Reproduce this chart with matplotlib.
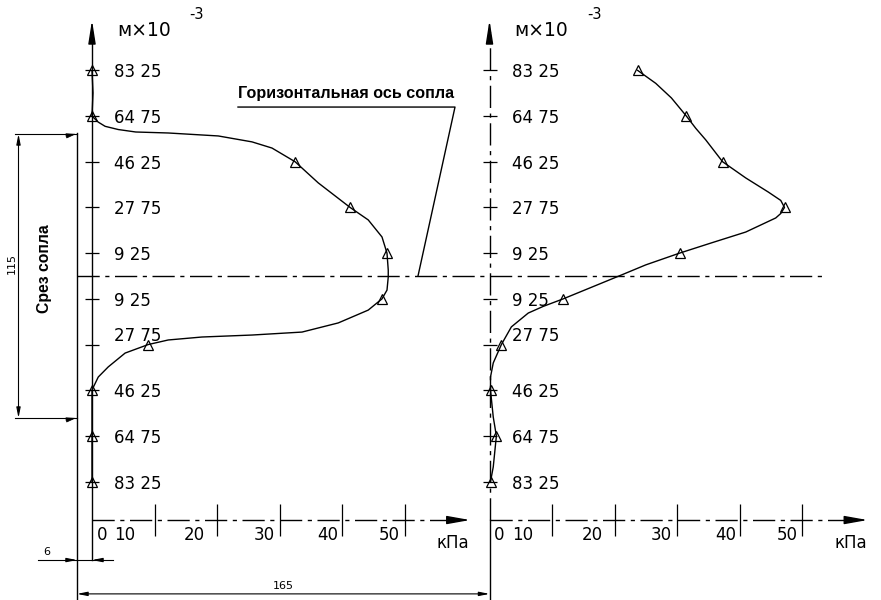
import matplotlib
matplotlib.use("Agg")
import matplotlib.pyplot as plt
from matplotlib.transforms import ScaledTranslation

plt.rcParams['font.family'] = ['DejaVu Sans']

# --- data ---------------------------------------------------------------
# stations across the jet, mm (x10^-3 m) from the nozzle axis, upper half > 0
y_pos = [83.25, 64.75, 46.25, 27.75, 9.25, -9.25, -27.75, -46.25, -64.75, -83.25]
y_labels = ['83 25', '64 75', '46 25', '27 75', '9 25',
            '9 25', '27 75', '46 25', '64 75', '83 25']

# measured pressure at each station, kPa
p_left = [0.0, 0.0, 32.5, 41.3, 47.2, 46.4, 9.0, 0.0, 0.0, 0.0]
p_right = [23.7, 31.5, 37.3, 47.2, 30.4, 11.8, 1.9, 0.2, 1.1, 0.2]

# faired profile as drawn on the sheet (kPa / mm)
curve_left_p = [0, 0.16, 0, 1.0, 2.1, 4.2, 7.0, 12.2, 20.2, 25.6, 28.8, 32.5, 36.2,
                41.3, 44.2, 46.4, 47.2, 47.4, 47.4, 47.2, 46.4, 44.2, 39.4, 33.6,
                25.6, 17.6, 12.2, 9.0, 5.3, 2.6, 1.0, 0.16, 0, 0, 0]
curve_left_y = [83.25, 74.1, 64.75, 62.3, 60.6, 59.3, 58.3, 57.9, 56.7, 54.3, 51.8,
                46.25, 37.7, 27.75, 22.7, 15.8, 9.25, 2.4, -0.4, -5.7, -9.25, -13.8,
                -19.0, -22.7, -23.9, -24.7, -25.9, -27.75, -31.2, -36.8, -40.9,
                -45.3, -46.25, -64.75, -83.25]

curve_right_p = [23.7, 26.6, 29.1, 31.5, 33.0, 34.6, 37.3, 41.0, 44.6, 46.6, 47.2,
                 46.6, 45.8, 41.0, 35.5, 30.4, 25.0, 21.1, 11.8, 8.6, 6.2, 3.5,
                 1.9, 0.6, 0.16, 0.16, 0.6, 1.1, 0.6, 0.16]
curve_right_y = [83.25, 78.0, 72.1, 64.75, 59.8, 55.1, 46.25, 39.7, 34.0, 30.6,
                 27.75, 25.3, 23.5, 17.8, 13.4, 9.25, 4.5, 0.4, -9.25, -12.3,
                 -15.0, -20.6, -27.75, -35.2, -40.9, -46.25, -57.1, -64.75,
                 -77.3, -83.25]

x_ticks = [10, 20, 30, 40, 50]
x_labels = ['0', '10', '20', '30', '40', '50']
x_label_at = [1.6, 5.3, 16.4, 27.5, 37.8, 47.6]

# drawing dimensions, mm
nozzle_d = 115
nozzle_offset = 6
panel_gap = 165

# --- layout -------------------------------------------------------------
W, H = 881, 600
AX_X, AX_Y = 92, 276          # left pressure origin / nozzle axis, px
SX, SY = 2.5, 2.47            # px per mm
KPA_MM = 2.5                  # mm of sheet per kPa
P_LIM = (0, 61)
Y_LIM = (-98.8, 103.6)

LW = 1.0
DASHDOT = (16, 4, 3, 4)
BOLD_FONT = ['Liberation Sans', 'DejaVu Sans']

fig = plt.figure(figsize=(W / 100, H / 100), dpi=100)
fig.patch.set_facecolor('white')

# sheet axes in mm, origin on the left pressure axis / nozzle axis
dr = fig.add_axes([0, 0, 1, 1])
dr.set_xlim(-AX_X / SX, (W - AX_X) / SX)
dr.set_ylim(-(H - AX_Y) / SY, AX_Y / SY)
dr.axis('off')

cut_x = -nozzle_offset
right_x = cut_x + panel_gap
half = nozzle_d / 2
y_bottom = -(H - AX_Y) / SY


def add_panel(x_mm, p_marks, cp, cy, dashed_axis):
    left = AX_X + x_mm * SX
    width = (P_LIM[1] - P_LIM[0]) * KPA_MM * SX
    top = AX_Y - Y_LIM[1] * SY
    height = (Y_LIM[1] - Y_LIM[0]) * SY
    ax = fig.add_axes([left / W, (H - top - height) / H, width / W, height / H])
    ax.set_xlim(P_LIM)
    ax.set_ylim(Y_LIM)
    ax.patch.set_visible(False)

    ax.plot(cp, cy, color='k', lw=LW, clip_on=False)
    ax.plot(p_marks, y_pos, linestyle='none', marker='^', ms=6.5, mfc='none',
            mec='k', mew=0.9, clip_on=False)

    # y axis (ticks cross the axis, labels to the right)
    ax.spines['right'].set_position(('data', 0))
    ax.yaxis.tick_right()
    ax.set_yticks(y_pos, y_labels)
    ax.tick_params(axis='y', direction='inout', length=10, width=0.9, pad=11,
                   labelsize=12)
    ax.set_xticks(x_ticks, [''] * len(x_ticks))
    ax.tick_params(axis='x', direction='inout', length=23, width=0.9)
    for s in ax.spines.values():
        s.set_visible(False)
    # lower "27 75" sits above its tick on the sheet
    lab = ax.yaxis.get_major_ticks()[6].label2
    lab.set_transform(lab.get_transform() + ScaledTranslation(0, 0.11, fig.dpi_scale_trans))

    if dashed_axis:
        ax.plot([0, 0], [Y_LIM[0], Y_LIM[1] - 5], color='k', lw=LW,
                dashes=DASHDOT, clip_on=False)
    else:
        ax.plot([0, 0], [-115.0, Y_LIM[1] - 5], color='k', lw=LW, clip_on=False)
    ax.annotate('', xy=(0, Y_LIM[1]), xytext=(0, Y_LIM[1] - 8),
                arrowprops=dict(arrowstyle='-|>,head_length=1.4,head_width=0.22',
                                mutation_scale=10, color='k', lw=LW,
                                shrinkA=0, shrinkB=0),
                annotation_clip=False)
    ax.plot([0, 57.5], [Y_LIM[0]] * 2, color='k', lw=LW, dashes=DASHDOT,
            clip_on=False)
    ax.annotate('', xy=(60.5, Y_LIM[0]), xytext=(57, Y_LIM[0]),
                arrowprops=dict(arrowstyle='-|>,head_length=1.4,head_width=0.25',
                                mutation_scale=10, color='k', lw=LW,
                                shrinkA=0, shrinkB=0),
                annotation_clip=False)

    for t, xp in zip(x_labels, x_label_at):
        ax.text(xp, -104.9, t, ha='center', va='center', fontsize=12)
    ax.text(57.8, -108.1, 'кПа', ha='center', va='center', fontsize=12)
    ax.text(4.0, 99.2, 'м×10', ha='left', va='center', fontsize=13.5)
    ax.text(15.6, 106.0, '-3', ha='left', va='center', fontsize=10.5)
    return ax


axL = add_panel(0, p_left, curve_left_p, curve_left_y, False)
axR = add_panel(right_x, p_right, curve_right_p, curve_right_y, True)

# nozzle axis (dash-dot)
dr.plot([cut_x, 292], [0, 0], color='k', lw=LW, dashes=DASHDOT)

# nozzle exit plane and its 115 dimension
dr.plot([cut_x, cut_x], [half + 0.5, y_bottom], color='k', lw=LW)
for yy in (half, -half):
    dr.plot([-30.8, cut_x], [yy, yy], color='k', lw=0.8)
    dr.annotate('', xy=(cut_x - 0.3, yy), xytext=(cut_x - 4.5, yy - 0.8),
                arrowprops=dict(arrowstyle='-|>,head_length=0.6,head_width=0.15',
                                mutation_scale=10, color='k', lw=0.6,
                                shrinkA=0, shrinkB=0))
dr.annotate('', xy=(-29.4, half), xytext=(-29.4, -half),
            arrowprops=dict(arrowstyle='<|-|>,head_length=0.6,head_width=0.12',
                            mutation_scale=10, color='k', lw=0.8,
                            shrinkA=0, shrinkB=0))
dr.text(-32.2, 5.0, '115', rotation=90, ha='center', va='center', fontsize=8)
dr.text(-18.8, 2.8, 'Срез сопла', rotation=90, ha='center', va='center',
        fontsize=11.3, fontweight='bold', family=BOLD_FONT)

# right panel axis carried down to the 165 dimension
dr.plot([right_x, right_x], [Y_LIM[0], y_bottom], color='k', lw=LW)

# 6 dimension
dim6_y = -115.0
dr.plot([-21.6, 8.4], [dim6_y, dim6_y], color='k', lw=0.8)
for tip, tail in ((cut_x, cut_x - 3.2), (0, 3.2)):
    dr.annotate('', xy=(tip, dim6_y), xytext=(tail, dim6_y),
                arrowprops=dict(arrowstyle='-|>,head_length=0.6,head_width=0.12',
                                mutation_scale=10, color='k', lw=0.8,
                                shrinkA=0, shrinkB=0))
dr.text(-18.0, dim6_y + 1.2, '6', ha='center', va='bottom', fontsize=8)

# 165 dimension
dim165_y = -128.7
dr.annotate('', xy=(cut_x, dim165_y), xytext=(right_x, dim165_y),
            arrowprops=dict(arrowstyle='<|-|>,head_length=0.6,head_width=0.12',
                            mutation_scale=10, color='k', lw=0.8,
                            shrinkA=0, shrinkB=0))
dr.text(76.4, dim165_y + 1.3, '165', ha='center', va='bottom', fontsize=8)

# callout for the nozzle axis
dr.text(58.4, 74.0, 'Горизонтальная ось сопла', ha='left', va='center',
        fontsize=11.6, fontweight='bold', family=BOLD_FONT)
dr.plot([58.4, 145.2, 130.4], [68.4, 68.4, 0], color='k', lw=LW)

fig.savefig('out.png', dpi=100, facecolor='white')
